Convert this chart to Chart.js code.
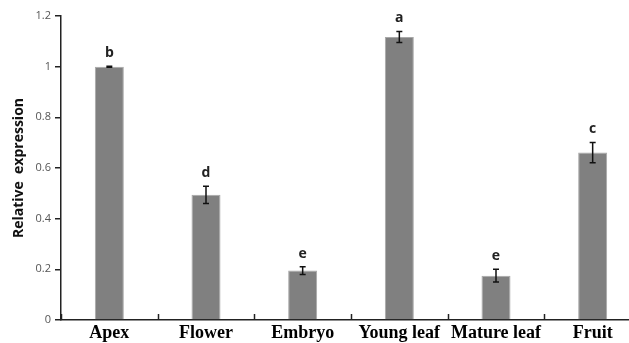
<!DOCTYPE html>
<html>
<head>
<meta charset="utf-8">
<script src="https://cdn.jsdelivr.net/npm/chart.js@4"></script>
<style>
  html, body { margin: 0; padding: 0; background: #fff; overflow: hidden; }
  #wrap { width: 642px; height: 343px; }
</style>
</head>
<body>
<div id="wrap"><canvas id="dataChart" width="642" height="343"></canvas></div>
<script>
// Values
const tissues = ["Apex", "Flower", "Embryo", "Young leaf", "Mature leaf", "Fruit"];
const expression = [1.0, 0.494, 0.195, 1.117, 0.175, 0.661];
const errors = [0.002, 0.034, 0.015, 0.022, 0.025, 0.040];
const letters = ["b", "d", "e", "a", "e", "c"];
const yTicks = [0, 0.2, 0.4, 0.6, 0.8, 1, 1.2];

// Error bars, significance letters and inward x ticks
const extrasPlugin = {
    id: "extras",
    afterDatasetsDraw(chart) {
        const ctx = chart.ctx;
        const x = chart.scales.x;
        const y = chart.scales.y;
        ctx.save();

        // small upward ticks on the category axis
        ctx.strokeStyle = "#222";
        ctx.lineWidth = 1.5;
        for (let i = 0; i <= tissues.length; i++) {
            const px = Math.round(x.getPixelForValue(i - 0.5)) + 0.5;
            ctx.beginPath();
            ctx.moveTo(px, y.bottom);
            ctx.lineTo(px, y.bottom - 6);
            ctx.stroke();
        }

        tissues.forEach((t, i) => {
            const cx = x.getPixelForValue(i);
            const top = y.getPixelForValue(expression[i] + errors[i]);
            const bot = y.getPixelForValue(expression[i] - errors[i]);
            ctx.strokeStyle = "#111";
            ctx.lineWidth = 1.5;
            ctx.beginPath();
            ctx.moveTo(cx, top); ctx.lineTo(cx, bot);
            ctx.moveTo(cx - 3, top); ctx.lineTo(cx + 3, top);
            ctx.moveTo(cx - 3, bot); ctx.lineTo(cx + 3, bot);
            ctx.stroke();

            ctx.fillStyle = "#222";
            ctx.font = "bold 14px 'Open Sans', sans-serif";
            ctx.textAlign = "center";
            ctx.textBaseline = "middle";
            ctx.fillText(letters[i], cx, top - 13);
        });
        ctx.restore();
    }
};

const ctx = document.getElementById("dataChart").getContext("2d");
new Chart(ctx, {
    type: "bar",
    data: {
        labels: tissues,
        datasets: [{
            data: expression,
            backgroundColor: "#808080",
            borderColor: "#a8a8a8",
            borderWidth: 1,
            barPercentage: 0.3,
            categoryPercentage: 1.0
        }]
    },
    options: {
        responsive: false,
        animation: false,
        layout: {
            padding: { left: 0, right: 1, top: 16, bottom: 0 }
        },
        plugins: {
            legend: { display: false },
            tooltip: { enabled: false }
        },
        scales: {
            x: {
                offset: true,
                grid: { display: false, drawTicks: false },
                border: { display: true, color: "#222", width: 1.5 },
                ticks: {
                    color: "#000",
                    padding: 3,
                    font: { family: "'Liberation Serif', 'Times New Roman', serif", size: 18, weight: "bold" }
                },
                afterFit(scale) { scale.height = 23; }
            },
            y: {
                min: 0,
                max: 1.2,
                afterBuildTicks(scale) {
                    scale.ticks = yTicks.map(v => ({ value: v }));
                },
                grid: {
                    drawOnChartArea: false,
                    drawTicks: true,
                    tickLength: 6,
                    color: "#222",
                    lineWidth: 1.5
                },
                border: { display: true, color: "#222", width: 1.5 },
                ticks: {
                    color: "#555",
                    padding: 4,
                    font: { family: "'Open Sans', sans-serif", size: 11 },
                    callback: v => String(v)
                },
                title: {
                    display: true,
                    text: "Relative  expression",
                    color: "#111",
                    padding: { top: 11, bottom: 0 },
                    font: { family: "'Open Sans', sans-serif", size: 14, weight: "bold" }
                },
                afterFit(scale) { scale.width = 61; }
            }
        }
    },
    plugins: [extrasPlugin]
});
</script>
</body>
</html>
